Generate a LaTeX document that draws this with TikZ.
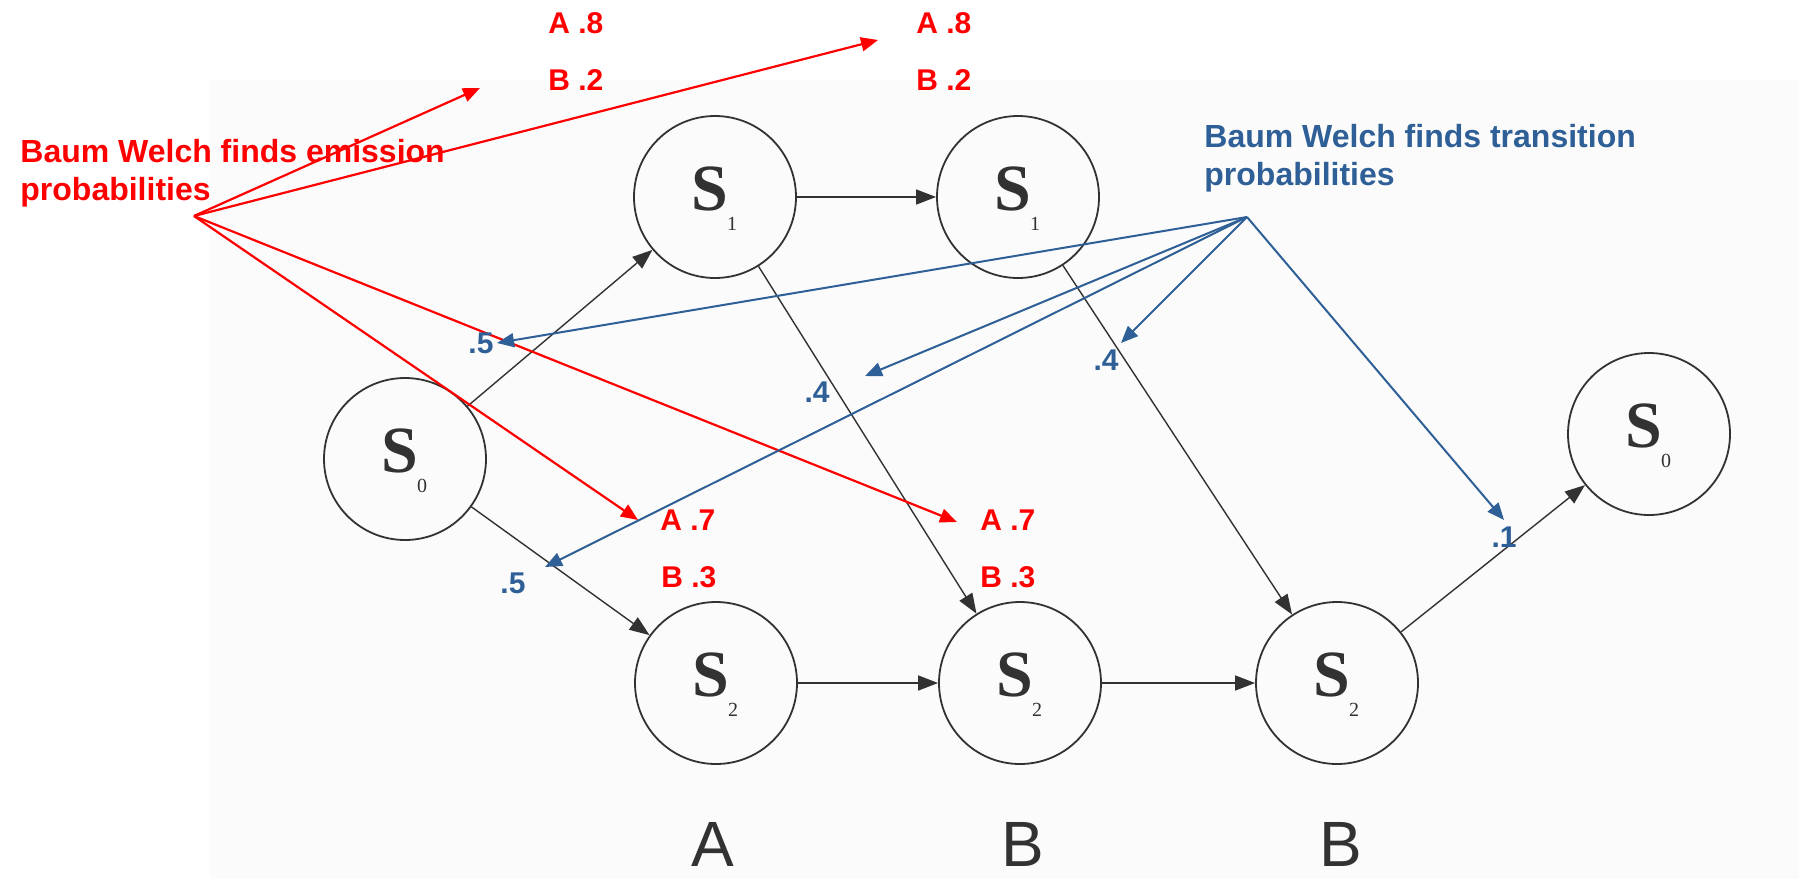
\documentclass[tikz,border=0pt]{standalone}
\usepackage{fontspec}
\setmainfont{Liberation Sans}
\newfontfamily\statefont{Liberation Serif}
\usetikzlibrary{arrows.meta}

\definecolor{emitred}{RGB}{255,0,0}
\definecolor{transblue}{RGB}{46,95,150}
\definecolor{ink}{RGB}{50,50,50}

\tikzset{
  state/.style={circle, draw=ink, line width=0.9pt, minimum size=81pt, inner sep=0pt},
  sletter/.style={font=\statefont\bfseries\fontsize{33}{33}\selectfont, text=ink, inner sep=0pt},
  ssub/.style={font=\statefont\fontsize{10}{10}\selectfont, text=ink, inner sep=0pt},
  flow/.style={draw=ink, line width=0.7pt, -{Triangle[length=10pt,width=7.5pt]}},
  emitarrow/.style={draw=emitred, line width=1.1pt, -{Triangle[length=8.5pt,width=7pt]}},
  transarrow/.style={draw=transblue, line width=1pt, -{Triangle[length=8.5pt,width=7pt]}},
  emitlabel/.style={text=emitred, font=\bfseries\fontsize{15}{19}\selectfont, inner sep=0pt},
  translabel/.style={text=transblue, font=\bfseries\fontsize{15}{19}\selectfont, inner sep=0pt},
  headline/.style={font=\bfseries\fontsize{16}{19}\selectfont, inner sep=0pt, align=left, anchor=north west},
  obs/.style={font=\fontsize{32}{32}\selectfont, text=ink, inner sep=0pt},
}

% one HMM state: name, x, y, index
\newcommand\hmmstate[4]{%
  \node[state] (#1) at (#2,#3) {};
  \node[sletter] (#1-s) at ([shift={(-5,-8)}]#1.center) {S};
  \node[ssub] (#1-i) at ([shift={(17,27)}]#1.center) {#4};
}

\begin{document}
\begin{tikzpicture}[x=0.5pt, y=-0.5pt]
  % page and scanned-trellis backdrop
  \fill[white] (0,0) rectangle (1799,879);
  \useasboundingbox (0,0) rectangle (1799,879);
  \fill[black!1.5] (210,80) rectangle (1799,879);

  % trellis states
  \hmmstate{s0a}{405}{459}{0}
  \hmmstate{s1a}{715}{197}{1}
  \hmmstate{s1b}{1018}{197}{1}
  \hmmstate{s2a}{716}{683}{2}
  \hmmstate{s2b}{1020}{683}{2}
  \hmmstate{s2c}{1337}{683}{2}
  \hmmstate{s0b}{1649}{434}{0}

  % trellis transitions
  \draw[flow] (s0a) -- (s1a);
  \draw[flow] (s0a) -- (s2a);
  \draw[flow] (s1a) -- (s1b);
  \draw[flow] (s1a) -- (s2b);
  \draw[flow] (s1b) -- (s2c);
  \draw[flow] (s2a) -- (s2b);
  \draw[flow] (s2b) -- (s2c);
  \draw[flow] (s2c) -- (s0b);

  % observed symbols
  \node[obs, anchor=base] (oa) at (713,866) {A};
  \node[obs, anchor=base] (ob1) at (1023,866) {B};
  \node[obs, anchor=base] (ob2) at (1341,866) {B};

  % emission probabilities
  \node[headline, text=emitred] (emittext) at (20,139) {Baum Welch finds emission\\probabilities};
  \node[emitlabel, anchor=base west] (a8l) at (548,33) {A .8};
  \node[emitlabel, anchor=base west] (b2l) at (548,90) {B .2};
  \node[emitlabel, anchor=base west] (a8r) at (916,33) {A .8};
  \node[emitlabel, anchor=base west] (b2r) at (916,90) {B .2};
  \node[emitlabel, anchor=base west] (a7l) at (660,530) {A .7};
  \node[emitlabel, anchor=base west] (b3l) at (661,587) {B .3};
  \node[emitlabel, anchor=base west] (a7r) at (980,530) {A .7};
  \node[emitlabel, anchor=base west] (b3r) at (980,587) {B .3};

  \coordinate (emit) at (194,216);
  \coordinate (e1) at (480,88);
  \coordinate (e2) at (878,40);
  \coordinate (e3) at (638,520);
  \coordinate (e4) at (957,522);
  \draw[emitarrow] (emit) -- (e1);
  \draw[emitarrow] (emit) -- (e2);
  \draw[emitarrow] (emit) -- (e3);
  \draw[emitarrow] (emit) -- (e4);

  % transition probabilities
  \node[headline, text=transblue] (transtext) at (1204,124) {Baum Welch finds transition\\probabilities};
  \node[translabel, anchor=base] (p01) at (481,353) {.5};
  \node[translabel, anchor=base] (p12a) at (817,402) {.4};
  \node[translabel, anchor=base] (p12b) at (1106,370) {.4};
  \node[translabel, anchor=base] (p02) at (513,593) {.5};
  \node[translabel, anchor=base] (p20) at (1504,547) {.1};

  \coordinate (trans) at (1247,217);
  \coordinate (t1) at (497,343);
  \coordinate (t2) at (865,376);
  \coordinate (t3) at (545,567);
  \coordinate (t4) at (1121,343);
  \coordinate (t5) at (1504,520);
  \draw[transarrow] (trans) -- (t1);
  \draw[transarrow] (trans) -- (t2);
  \draw[transarrow] (trans) -- (t3);
  \draw[transarrow] (trans) -- (t4);
  \draw[transarrow] (trans) -- (t5);
\end{tikzpicture}
\end{document}
